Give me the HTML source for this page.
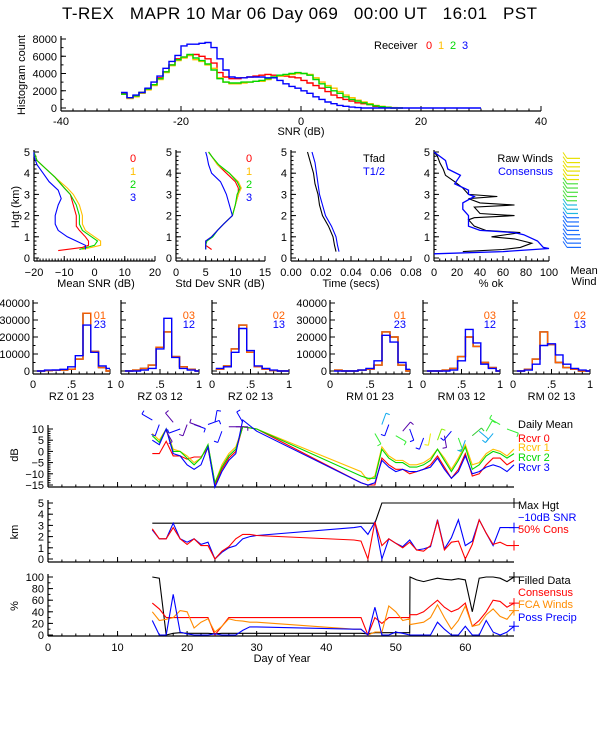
<!DOCTYPE html>
<html><head><meta charset="utf-8"><style>
html,body{margin:0;padding:0;background:#fff}
svg{display:block;font-family:"Liberation Sans",sans-serif}
text{font-size:11px}
</style></head><body>
<svg id="chart" width="600" height="750" viewBox="0 0 600 750" xmlns="http://www.w3.org/2000/svg">
<rect width="600" height="750" fill="#fff"/>
<text x="62" y="19" textLength="475" lengthAdjust="spacing" xml:space="preserve" style="font-size:17px;white-space:pre">T-REX   MAPR 10 Mar 06 Day 069   00:00 UT   16:01   PST</text>
<g>
<text x="374" y="49">Receiver</text>
<text x="426" y="49" fill="#f00">0</text><text x="438" y="49" fill="#ffbf00">1</text><text x="450" y="49" fill="#00d800">2</text><text x="462" y="49" fill="#00f">3</text>
</g>
<text transform="translate(25,75) rotate(-90)" text-anchor="middle">Histogram count</text>
<text x="301" y="135" text-anchor="middle">SNR (dB)</text>
<text transform="translate(19,207) rotate(-90)" text-anchor="middle">Hgt (km)</text>
<text x="96" y="287" text-anchor="middle">Mean SNR (dB)</text>
<text x="220" y="287" text-anchor="middle">Std Dev SNR (dB)</text>
<text x="351" y="287" text-anchor="middle">Time (secs)</text>
<text x="491" y="287" text-anchor="middle">% ok</text>
<text x="584" y="274" text-anchor="middle">Mean</text>
<text x="584" y="285" text-anchor="middle">Wind</text>
<text x="363" y="162">Tfad</text>
<text x="363" y="175" fill="#00f">T1/2</text>
<text x="553" y="162" text-anchor="end">Raw Winds</text>
<text x="553" y="175" text-anchor="end" fill="#00f">Consensus</text>
<text transform="translate(18,455) rotate(-90)" text-anchor="middle">dB</text>
<text transform="translate(18,532) rotate(-90)" text-anchor="middle">km</text>
<text transform="translate(18,606) rotate(-90)" text-anchor="middle">%</text>
<g>
<text x="518" y="428">Daily Mean</text>
<text x="518" y="442" fill="#f00">Rcvr 0</text>
<text x="518" y="451" fill="#ffbf00">Rcvr 1</text>
<text x="518" y="461" fill="#00d800">Rcvr 2</text>
<text x="518" y="471" fill="#00f">Rcvr 3</text>
<text x="518" y="509">Max Hgt</text>
<text x="518" y="521" fill="#00f">−10dB SNR</text>
<text x="518" y="533" fill="#f00">50% Cons</text>
<text x="518" y="584">Filled Data</text>
<text x="518" y="596" fill="#f00">Consensus</text>
<text x="518" y="608" fill="#ff8c00">FCA Winds</text>
<text x="518" y="621" fill="#00f">Poss Precip</text>
</g>
<text x="282" y="662" text-anchor="middle">Day of Year</text>
<g id="plot"></g>
</svg>
<script>
// ---------- DATA ----------
const snrBinStart = -30;
const histRcvr0 = [1700,1200,1400,1800,2200,2700,3500,4200,5000,5700,5900,6100,6200,6000,5700,5200,4100,3600,3400,3400,3500,3600,3700,3800,3900,3800,3700,3700,3600,3500,3200,2900,2600,2300,1900,1500,1200,1000,800,600,500,400,200,100,50,0,0];
const histRcvr1 = [1600,1100,1300,1700,2100,2600,3300,4100,4900,5500,5800,6100,5600,5400,5000,4600,3500,3000,2800,2800,2900,3000,3100,3100,3300,3500,3700,3800,3900,4000,4000,3900,3500,3000,2600,2300,1900,1500,1200,900,700,500,300,200,100,50,0];
const histRcvr2 = [1600,1200,1400,1800,2200,2700,3400,4200,5000,5600,5900,6200,5800,5500,5100,4400,3400,3000,2900,2900,3000,3000,3100,3200,3400,3600,3800,3900,4000,4100,4000,3800,3300,2800,2400,2000,1700,1300,1000,800,600,400,250,150,80,0,0];
const histRcvr3 = [1800,1200,1500,1800,2300,3000,3700,4600,5400,6100,7200,7400,7400,7500,7600,7000,5700,4400,3600,3500,3500,3600,3600,3600,3500,3500,3200,2800,2500,2300,2000,1700,1300,1000,700,500,300,200,100,50,0,0,0,0,0,0,0,0,0,0,0,0,0,0,0,0,0,0,0,0];

const histXTicks = [-40,-20,0,20,40];
const histYTicks = [0,2000,4000,6000,8000];

const hgtTicks = [0,1,2,3,4,5];
const meanHgt0 = [0.35,0.5,0.6,0.8,1.0,1.3,1.5,2.0,2.5,3.0,3.3,3.8,4.2,4.6,5.0];
const meanSnr0 = [-12,-4,-2,-2,-3,-5,-6,-6,-7,-8,-10,-13,-16,-19,-20];
const meanHgt1 = [0.4,0.6,0.8,1.0,1.3,1.6,2.0,2.5,3.0,3.3,3.8,4.2,4.6,5.0];
const meanSnr1 = [-4,2,2,0,-3,-4,-4,-5,-7,-9,-13,-16,-19,-20];
const meanSnr2 = [-5,0,1,-1,-4,-5,-5,-6,-8,-10,-13,-16,-19,-20];
const meanHgt3 = [0.4,0.6,0.8,1.0,1.3,1.6,2.0,2.5,2.8,3.2,3.6,4.0,4.4,4.8,5.0];
const meanSnr3 = [-3,-3,-6,-9,-12,-13,-13,-12,-11,-12,-15,-17,-19,-20,-20];

const sdHgt = [0.4,0.6,0.8,1.0,1.3,1.6,2.0,2.5,3.0,3.3,3.6,4.0,4.4,4.8,5.0];
const sdSnr0 = [6,5,5,6,7,8,9.5,10,10.5,10.5,10,8.5,7,6,5.5];
const sdSnr1 = [5,5,5,6,7,8,9.5,10,10.5,11,10.5,9,7,6,5.5];
const sdSnr2 = [5,5,5.2,6.2,7,8,9.5,10,10.3,10.8,10.3,9,7.2,6,5.5];
const sdSnr3 = [5,5,5,6,7,8,9.5,9,8.5,8,7.5,6,5.5,5.2,5];

const timeHgt = [0.3,0.6,1.0,1.5,2.0,2.5,3.0,3.5,4.0,4.5,5.0];
const tfad = [0.030,0.029,0.028,0.025,0.021,0.019,0.018,0.016,0.015,0.013,0.011];
const thalf = [0.032,0.031,0.030,0.027,0.023,0.021,0.019,0.018,0.017,0.016,0.014];

const rawHgt = [0.3,0.4,0.5,0.7,0.9,1.0,1.2,1.3,1.5,1.8,1.9,2.0,2.1,2.4,2.5,2.6,2.8,2.9,3.0,3.3,3.6,3.9,4.2,4.5,4.8,5.0];
const rawOk = [25,60,75,85,70,50,75,45,35,30,35,70,40,35,70,40,30,55,30,25,18,10,8,5,3,0];
const consHgt = [0.2,0.3,0.45,0.5,0.8,1.0,1.1,1.2,1.3,1.5,2.0,2.3,2.6,2.9,3.0,3.2,3.5,3.9,4.2,4.6,5.0];
const consOk = [0,60,100,95,90,82,78,70,40,30,30,25,25,35,30,30,18,23,12,10,0];

const meanWindHgt = [0.5,0.7,0.9,1.1,1.3,1.5,1.7,1.9,2.1,2.3,2.5,2.7,2.9,3.1,3.3,3.5,3.7,3.9,4.1,4.3,4.5,4.7];
const meanWindSpd = [14,14,14,13,12,12,12,12,11,11,10,10,10,11,11,11,12,12,13,13,13,13];

const ratioBins = [0.1,0.2,0.3,0.4,0.5,0.6,0.7,0.8,0.9,1.0];
const rz01 = [0,300,400,500,1000,7000,34000,11500,2000,0];
const rz23 = [0,500,600,1000,2500,9000,27000,11000,3000,1500];
const rz03 = [0,500,1500,3500,14000,23000,8500,2500,1000,0];
const rz12 = [0,0,500,1500,13000,31000,8000,1500,500,0];
const rz02 = [1000,3000,13000,27000,11000,2500,1000,300,0,0];
const rz13 = [1500,2500,11000,25000,12000,3000,1500,500,0,0];
const rm01 = [500,0,0,500,1000,3500,23000,20000,3500,0];
const rm23 = [0,0,0,500,1500,6000,21000,17000,5000,1000];
const rm03 = [0,0,500,1500,8500,20000,14500,5000,2000,0];
const rm12 = [0,0,0,500,6000,24500,16500,4000,1500,0];
const rm02 = [0,1000,7000,23000,15500,5000,2000,1000,0,0];
const rm13 = [0,500,4000,15000,16000,9500,4000,1500,500,0];
const ratioYTicks = [0,10000,20000,30000,40000];

const days = [15,16,17,18,19,20,21,22,23,24,25,26,27,28,30,45,46,47,48,49,50,51,52,53,54,55,56,57,58,59,60,61,62,63,64,65,66,67];
const dbR0 = [-1,-1,4.5,-2,-2,-3.5,-2.5,-2.5,1.5,-15,-8,-3,0,11,10,-14,-15,-15,-3,-6,-8,-8,-10,-9,-8,-6,-2,-7,-12,-8,-1,-11,-10,-6,-3,-3,-6,-4];
const dbR1 = [8,5,10,1,0,-2,-5,-3,3,-14,-6,-1,2,11,10,-9,-13,-11,2,-2,-4,-4,-6,-6,-5,-3,1,-3,-8,-3,3,-6,-5,-1,1,0,-2,1];
const dbR2 = [7,4,10,0,0,-3,-6,-3,3,-14,-7,-2,1,11,10,-11,-12,-12,1,-3,-5,-5,-7,-7,-6,-4,1,-4,-9,-4,2,-8,-6,-2,0,-1,-3,-1];
const dbR3 = [5,3,10,-1,-2,-6,-8,-6,2,-16,-9,-4,-1,14,9,-14,-15,-14,-4,-7,-9,-8,-9,-9,-8,-7,-3,-8,-12,-9,-2,-10,-9,-7,-6,-7,-9,-6];
const dbTicks = [-15,-10,-5,0,5,10];

const hgtDays = [15,16,17,18,19,20,21,22,23,24,25,26,27,28,29,30,44,45,46,47,48,49,50,51,52,53,54,55,56,57,58,59,60,61,62,63,64,65,66,67];
const snr10Hgt = [2.6,1.8,1.8,3.2,1.8,1.5,1.8,1.3,1.5,0,0.6,1.0,1.2,1.8,2.0,2.1,2.8,2.9,2.2,3.3,0,1.8,1.4,1.1,1.7,0.8,0.9,1.1,3.5,0.9,1.9,3.5,1.2,1.6,3.5,2.3,1.2,2.8,2.8,2.8];
const cons50Hgt = [2.7,1.8,1.8,2.8,1.8,1.3,1.8,1.2,1.2,0,0.7,1.1,1.8,2.2,2.2,2.1,1.7,1.6,0,3.3,1.2,1.8,1.4,1.0,1.5,0.8,0.7,1.2,3.4,0.8,1.5,1.6,0,1.3,3.5,2.3,1.3,1.5,1.2,1.2];
const maxHgtDays = [15,47,48,67];
const maxHgt = [3.2,3.2,5,5];
const kmTicks = [0,1,2,3,4,5];

const pctDays = [15,16,17,18,19,20,21,22,23,24,25,26,27,28,29,30,44,45,46,47,48,49,50,51,52,52.05,53,54,55,56,57,58,59,60,61,62,63,64,65,66,67];
const filledPct = [100,98,0,3,4,3,3,3,3,2,3,3,3,3,3,3,3,3,2,4,4,4,4,4,4,100,95,92,95,98,96,95,97,95,40,98,100,100,98,92,100];
const consPct = [55,45,30,30,30,30,30,30,30,0,15,30,30,30,30,30,30,30,0,30,20,30,30,30,30,35,35,40,50,60,48,40,45,55,15,25,40,60,58,48,55];
const fcaPct = [40,25,27,30,42,40,12,22,28,5,15,28,25,24,22,22,10,10,0,5,5,50,40,25,28,18,20,22,30,52,30,10,25,50,15,18,35,45,32,27,42];
const precipPct = [25,0,0,70,5,2,0,0,0,2,0,0,0,8,14,14,10,10,0,48,0,0,5,3,0,0,0,0,0,22,10,0,0,15,0,0,25,5,0,5,15];
const pctTicks = [0,20,40,60,80,100];
const dayTicks = [0,10,20,30,40,50,60];

const barbDays = [15,16,17,18,19,20,21,22,23,24,25,26,27,28,47,48,49,50,51,52,54,55,56,57,58,59,60,61,62,63,64,65,66];
const barbDb = [14,12,9,13,10,12,12,11,12,13,9,11,11,13,8,12,12,7,9,10,6,8,5,7,9,6,5,7,9,9,8,12,10];
const barbDir = [300,200,150,320,250,200,110,290,70,10,200,90,90,330,150,20,200,120,40,160,200,190,20,170,220,160,200,50,130,30,220,300,110];
const barbCol = ["#00f","#00f","#50a","#50a","#00f","#50a","#00f","#50a","#00f","#00f","#00f","#50a","#50a","#00f","#3e3","#1ae","#00f","#3e3","#50a","#00f","#00f","#ee0","#8e0","#50a","#00f","#3e3","#1ae","#3c3","#1ae","#3e3","#1ae","#3e3","#3e3"];

// ---------- DRAWING ----------
const NS = "http://www.w3.org/2000/svg";
const root = document.getElementById('plot');
function el(tag, attrs, name, parent){
  const e = document.createElementNS(NS, tag);
  for (const k in attrs) e.setAttribute(k, attrs[k]);
  
  
  (parent||root).appendChild(e);
  return e;
}
function lin(a0,a1,p0,p1){ return v => p0 + (v-a0)/(a1-a0)*(p1-p0); }
function poly(xs, ys, fx, fy, color, name, w){
  const pts = xs.map((x,i)=>fx(x).toFixed(1)+','+fy(ys[i]).toFixed(1)).join(' ');
  return el('polyline', {points:pts, fill:'none', stroke:color, 'stroke-width':w||1.1}, name);
}
function txt(x,y,s,name,anchor,color){
  const t = el('text',{x:x,y:y,'text-anchor':anchor||'middle',fill:color||'#000'},name);
  t.textContent = s;
  return t;
}
function xAxis(y, x0, x1, fx, ticks, labels, minor, name, labY){
  el('line',{x1:x0,y1:y,x2:x1,y2:y,stroke:'#000','stroke-width':1.2}, name+'-line');
  ticks.forEach((t,i)=>{
    el('line',{x1:fx(t),y1:y,x2:fx(t),y2:y-5,stroke:'#000'}, name+'-tick');
    if (labels) txt(fx(t), labY, labels[i], name+'-label');
  });
  if (minor){ for (let v=minor[0]; v<=minor[1]+1e-9; v+=minor[2]) el('line',{x1:fx(v),y1:y,x2:fx(v),y2:y-2.5,stroke:'#000'}, name+'-minor-tick'); }
}
function yAxis(x, y0, y1, fy, ticks, labels, minor, name, labX){
  el('line',{x1:x,y1:y0,x2:x,y2:y1,stroke:'#000','stroke-width':1.2}, name+'-line');
  ticks.forEach((t,i)=>{
    el('line',{x1:x,y1:fy(t),x2:x+5,y2:fy(t),stroke:'#000'}, name+'-tick');
    if (labels) txt(labX, fy(t)+4, labels[i], name+'-label','end');
  });
  if (minor){ for (let v=minor[0]; v<=minor[1]+1e-9; v+=minor[2]) el('line',{x1:x,y1:fy(v),x2:x+2.5,y2:fy(v),stroke:'#000'}, name+'-minor-tick'); }
}
function stepHist(starts, vals, fx, fy, color, name){
  const xs=[], ys=[];
  vals.forEach((v,i)=>{ xs.push(starts+i, starts+i+1); ys.push(v,v); });
  return poly(xs, ys, fx, fy, color, name, 1.4);
}

{
  const fx = lin(-40,40,61,541), fy = lin(0,8000,108,39);
  xAxis(111, 61, 541, fx, histXTicks, histXTicks.map(String), [-40,40,2], 'snr-x-axis', 125);
  yAxis(61, 36, 111, fy, histYTicks, histYTicks.map(String), [0,8000,1000], 'count-y-axis', 57);
  stepHist(snrBinStart, histRcvr0, fx, fy, '#f00', 'hist-rcvr0');
  stepHist(snrBinStart, histRcvr1, fx, fy, '#ffbf00', 'hist-rcvr1');
  stepHist(snrBinStart, histRcvr2, fx, fy, '#00d800', 'hist-rcvr2');
  stepHist(snrBinStart, histRcvr3, fx, fy, '#00f', 'hist-rcvr3');
}

const fh = lin(0,5,258,152);
{
  const fx = lin(-20,20,34,155);
  xAxis(261, 34, 155, fx, [-20,-10,0,10,20], ['−20','−10','0','10','20'], [-20,20,1], 'mean-snr-x-axis', 276);
  yAxis(34, 150, 261, fh, hgtTicks, hgtTicks.map(String), [0,5,0.2], 'hgt-y-axis', 30);
  poly(meanSnr0, meanHgt0, fx, fh, '#f00', 'mean-snr-rcvr0');
  poly(meanSnr1, meanHgt1, fx, fh, '#ffbf00', 'mean-snr-rcvr1');
  poly(meanSnr2, meanHgt1, fx, fh, '#00d800', 'mean-snr-rcvr2');
  poly(meanSnr3, meanHgt3, fx, fh, '#00f', 'mean-snr-rcvr3');
  txt(133,162,'0','mean-legend-0','middle','#f00');
  txt(133,175,'1','mean-legend-1','middle','#ffbf00');
  txt(133,188,'2','mean-legend-2','middle','#00d800');
  txt(133,201,'3','mean-legend-3','middle','#00f');
}
{
  const fx = lin(0,15,176,265);
  xAxis(261, 176, 265, fx, [0,5,10,15], ['0','5','10','15'], [0,15,1], 'std-snr-x-axis', 276);
  yAxis(176, 150, 261, fh, hgtTicks, hgtTicks.map(String), [0,5,0.2], 'std-hgt-y-axis', 172);
  poly(sdSnr0, sdHgt, fx, fh, '#f00', 'std-snr-rcvr0');
  poly(sdSnr1, sdHgt, fx, fh, '#ffbf00', 'std-snr-rcvr1');
  poly(sdSnr2, sdHgt, fx, fh, '#00d800', 'std-snr-rcvr2');
  poly(sdSnr3, sdHgt, fx, fh, '#00f', 'std-snr-rcvr3');
  txt(249,162,'0','std-legend-0','middle','#f00');
  txt(249,175,'1','std-legend-1','middle','#ffbf00');
  txt(249,188,'2','std-legend-2','middle','#00d800');
  txt(249,201,'3','std-legend-3','middle','#00f');
}
{
  const fx = lin(0,0.08,291,411);
  xAxis(261, 291, 411, fx, [0,0.02,0.04,0.06,0.08], ['0.00','0.02','0.04','0.06','0.08'], [0,0.08,0.005], 'time-x-axis', 276);
  yAxis(291, 150, 261, fh, hgtTicks, hgtTicks.map(String), [0,5,0.2], 'time-hgt-y-axis', 287);
  poly(tfad, timeHgt, fx, fh, '#000', 'tfad-line');
  poly(thalf, timeHgt, fx, fh, '#00f', 't-half-line');
}
{
  const fx = lin(0,100,434,549);
  xAxis(261, 434, 549, fx, [0,20,40,60,80,100], ['0','20','40','60','80','100'], [0,100,5], 'pct-ok-x-axis', 276);
  yAxis(434, 150, 261, fh, hgtTicks, hgtTicks.map(String), [0,5,0.2], 'pct-hgt-y-axis', 430);
  poly(rawOk, rawHgt, fx, fh, '#000', 'raw-winds-line');
  poly(consOk, consHgt, fx, fh, '#00f', 'consensus-line', 1.3);
}
meanWindHgt.forEach((h,i)=>{
  const y = fh(h);
  const f = i/(meanWindHgt.length-1);
  const col = f<0.35 ? '#1a6cff' : f<0.5 ? '#20b8e0' : f<0.75 ? '#4de040' : '#e8e000';
  el('line',{x1:567,y1:y,x2:567+meanWindSpd[i],y2:y,stroke:col,'stroke-width':1.2},'mean-wind-barb');
  el('line',{x1:567,y1:y,x2:563,y2:y-6,stroke:col},'mean-wind-barb-tick');
});

{
  const fy = lin(0,40000,371,303);
  const panels = [
    [33,110,rz01,rz23,'01','23','RZ  01 23',true],
    [121,199,rz03,rz12,'03','12','RZ  03 12',false],
    [212,289,rz02,rz13,'02','13','RZ  02 13',false],
    [330,410,rm01,rm23,'01','23','RM   01 23',true],
    [423,500,rm03,rm12,'03','12','RM   03 12',false],
    [513,590,rm02,rm13,'02','13','RM   02 13',false]
  ];
  panels.forEach((p,k)=>{
    const fx = lin(0,1,p[0],p[1]);
    xAxis(374, p[0], p[1], fx, [0,0.5,1], ['0','.5','1'], [0,1,0.1], 'ratio-x-axis-'+k, 388);
    yAxis(p[0], 300, 374, fy, ratioYTicks, p[7]?ratioYTicks.map(String):null, [0,40000,5000], 'ratio-y-axis-'+k, p[0]-3);
    const bx = ratioBins.map(b=>b-0.05);
    const draw = (vals,col,nm)=>{
      const xs=[], ys=[];
      vals.forEach((v,i)=>{ xs.push(bx[i], Math.min(1,bx[i]+0.1)); ys.push(v,v); });
      poly(xs, ys, fx, fy, col, nm, 1.4);
    };
    draw(p[2], '#000', 'ratio-hist-black-'+k);
    draw(p[2], '#ff6000', 'ratio-hist-'+p[4]);
    draw(p[3], '#00f', 'ratio-hist-'+p[5]);
    txt(p[1]-4, 319, p[4], 'ratio-legend-'+p[4], 'end', '#ff6000');
    txt(p[1]-4, 328, p[5], 'ratio-legend-'+p[5], 'end', '#00f');
    txt((p[0]+p[1])/2, 400, p[6], 'ratio-title-'+k);
  });
}

const fd = lin(0,67,48,514);
{
  const fy = lin(-15,10,485,429);
  xAxis(487, 48, 514, fd, dayTicks, null, [0,67,2], 'db-x-axis', 0);
  yAxis(48, 425, 487, fy, dbTicks, ['−15','−10','−5','0','5','10'], [-15,10,1], 'db-y-axis', 44);
  poly(days, dbR0, fd, fy, '#f00', 'daily-rcvr0');
  poly(days, dbR1, fd, fy, '#ffbf00', 'daily-rcvr1');
  poly(days, dbR2, fd, fy, '#00d800', 'daily-rcvr2');
  poly(days, dbR3, fd, fy, '#00f', 'daily-rcvr3');
  barbDays.forEach((d,i)=>{
    const x = fd(d), y = fy(barbDb[i]);
    const a = barbDir[i]*Math.PI/180;
    const x2 = x + 12*Math.sin(a), y2 = y - 12*Math.cos(a);
    el('line',{x1:x,y1:y,x2:x2,y2:y2,stroke:barbCol[i],'stroke-width':1},'daily-wind-barb');
    el('line',{x1:x2,y1:y2,x2:x2+4*Math.cos(a),y2:y2+4*Math.sin(a),stroke:barbCol[i],'stroke-width':1},'daily-wind-barb-flag');
  });
}
{
  const fy = lin(0,5,559,503);
  xAxis(562, 48, 514, fd, dayTicks, null, [0,67,2], 'km-x-axis', 0);
  yAxis(48, 500, 562, fy, kmTicks, kmTicks.map(String), [0,5,0.5], 'km-y-axis', 44);
  poly(maxHgtDays, maxHgt, fd, fy, '#000', 'max-hgt-line');
  poly(hgtDays, snr10Hgt, fd, fy, '#00f', 'snr10-hgt-line');
  poly(hgtDays, cons50Hgt, fd, fy, '#f00', 'cons50-hgt-line');
  [[maxHgt[maxHgt.length-1],'#000'],[snr10Hgt[snr10Hgt.length-1],'#00f'],[cons50Hgt[cons50Hgt.length-1],'#f00']].forEach(m=>{
    const x=fd(67), y=fy(m[0]);
    el('path',{d:`M${x-5},${y}H${x+5}M${x},${y-5}V${y+5}`,stroke:m[1]},'end-marker');
  });
}
{
  const fy = lin(0,100,635,577);
  xAxis(636, 48, 514, fd, dayTicks, dayTicks.map(String), [0,67,2], 'day-x-axis', 651);
  yAxis(48, 574, 636, fy, pctTicks, pctTicks.map(String), [0,100,10], 'pct-y-axis', 44);
  poly(pctDays, filledPct, fd, fy, '#000', 'filled-data-line');
  poly(pctDays, consPct, fd, fy, '#f00', 'consensus-pct-line');
  poly(pctDays, fcaPct, fd, fy, '#ff8c00', 'fca-winds-line');
  poly(pctDays, precipPct, fd, fy, '#00f', 'poss-precip-line');
  [[filledPct,'#000'],[consPct,'#f00'],[fcaPct,'#ff8c00'],[precipPct,'#00f']].forEach(m=>{
    const x=fd(67), y=fy(m[0][m[0].length-1]);
    el('path',{d:`M${x-5},${y}H${x+5}M${x},${y-5}V${y+5}`,stroke:m[1]},'end-marker');
  });
}
</script>
</body></html>
